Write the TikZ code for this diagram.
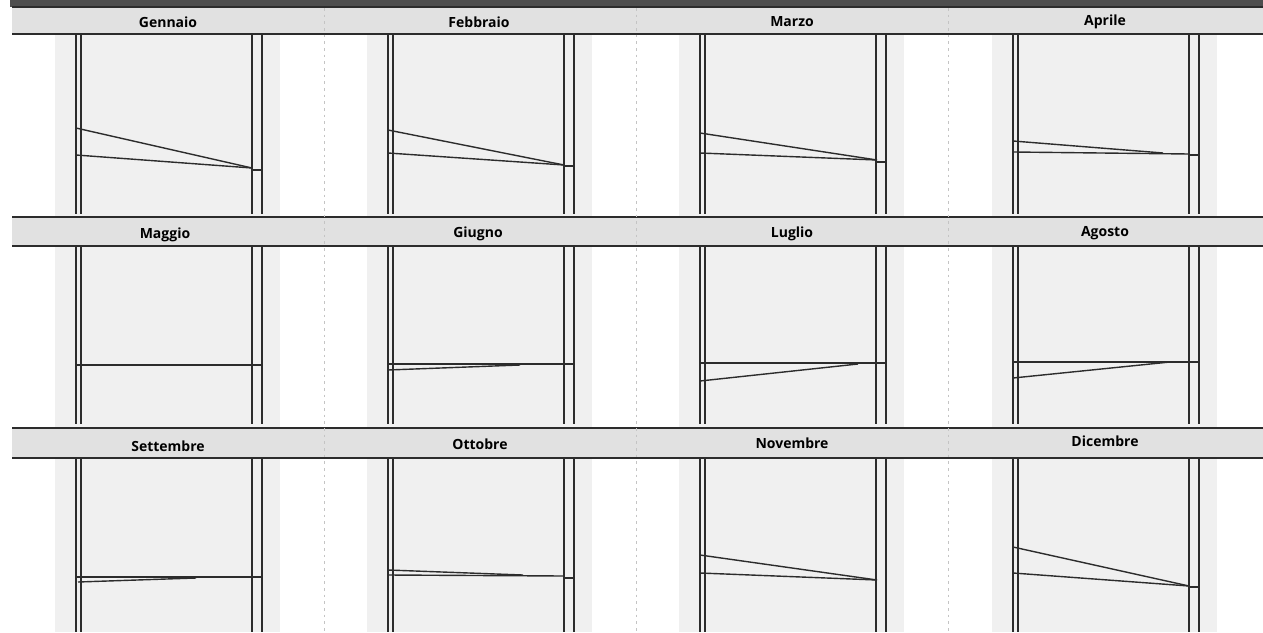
\documentclass[tikz,border=0pt]{standalone}
\usepackage{fontspec}
\setmainfont{Open Sans}
\definecolor{hdr}{HTML}{E1E1E1}
\definecolor{ink}{HTML}{2C2C2C}
\definecolor{pane}{HTML}{F0F0F0}
\definecolor{topband}{HTML}{4E4E4E}
\definecolor{sep}{HTML}{C4C4C4}
\tikzset{
  rail/.style={draw=ink, line width=1.5pt},
  trace/.style={draw=ink, line width=1.05pt},
  hline/.style={draw=ink, line width=1.3pt},
  monthlabel/.style={font=\bfseries\fontsize{10.5}{12}\selectfont, text=black, inner sep=0pt},
  sepline/.style={draw=sep, line width=0.6pt, dash pattern=on 2pt off 3pt}
}
\begin{document}
\begin{tikzpicture}[x=0.75pt,y=-0.75pt]
\useasboundingbox (0,0) rectangle (1263,632);
\fill[white] (0,0) rectangle (1263,632);
% top dark band
\fill[topband] (10,0) rectangle (1263,7);
% panel backgrounds
\foreach \c in {0,312,624,937}{
  \foreach \ya/\yb in {35/216,246/427,458/632}{
    \fill[pane] (55+\c,\ya) rectangle (280+\c,\yb);
  }
}
% header bands
\foreach \ya/\yb in {7/34,217/246,428/458}{
  \fill[hdr] (12,\ya) rectangle (1263,\yb);
  \draw[hline] (12,\ya) -- (1263,\ya);
  \draw[hline] (12,\yb) -- (1263,\yb);
}
% dotted separators
\foreach \x in {324,636,948}{
  \draw[sepline] (\x,8) -- (\x,632);
}
% rails
\foreach \c in {0,312,624,937}{
  \foreach \ya/\yb in {35/214,247/424,459/632}{
    \draw[rail] (76+\c,\ya) -- (76+\c,\yb);
    \draw[rail] (81+\c,\ya) -- (81+\c,\yb);
    \draw[rail] (252+\c,\ya) -- (252+\c,\yb);
    \draw[rail] (262+\c,\ya) -- (262+\c,\yb);
  }
}
% labels
\node[monthlabel] (m1) at (168,22) {Gennaio};
\node[monthlabel] (m2) at (479,22) {Febbraio};
\node[monthlabel] (m3) at (792,22) {Marzo};
\node[monthlabel] (m4) at (1105,22) {Aprile};
\node[monthlabel] (m5) at (165,235) {Maggio};
\node[monthlabel] (m6) at (478,234) {Giugno};
\node[monthlabel] (m7) at (792,234) {Luglio};
\node[monthlabel] (m8) at (1105,233) {Agosto};
\node[monthlabel] (m9) at (168,446) {Settembre};
\node[monthlabel] (m10) at (480,444) {Ottobre};
\node[monthlabel] (m11) at (792,443) {Novembre};
\node[monthlabel] (m12) at (1105,441) {Dicembre};
% traces row 1
\draw[trace] (76,128) -- (252,168);
\draw[trace] (76,155) -- (252,168);
\draw[trace] (252,170) -- (262,170);
\draw[trace] (388,130) -- (564,165);
\draw[trace] (388,153) -- (564,165);
\draw[trace] (564,166) -- (574,166);
\draw[trace] (700,133) -- (877,160);
\draw[trace] (700,153) -- (877,160);
\draw[trace] (877,162) -- (887,162);
\draw[trace] (1013,141) -- (1163,153);
\draw[trace] (1013,152) -- (1189,154);
\draw[trace] (1189,155) -- (1199,155);
% traces row 2
\draw[trace] (76,365) -- (262,365);
\draw[trace] (388,364) -- (574,364);
\draw[trace] (388,370) -- (520,365);
\draw[trace] (700,363) -- (887,363);
\draw[trace] (700,381) -- (858,364);
\draw[trace] (1013,362) -- (1199,362);
\draw[trace] (1013,378) -- (1170,362);
% traces row 3
\draw[trace] (76,577) -- (262,577);
\draw[trace] (78,582) -- (196,578);
\draw[trace] (388,570) -- (523,575);
\draw[trace] (388,575) -- (564,576);
\draw[trace] (564,578) -- (574,578);
\draw[trace] (700,555) -- (877,580);
\draw[trace] (700,573) -- (877,580);
\draw[trace] (1013,547) -- (1189,586);
\draw[trace] (1013,573) -- (1189,586);
\draw[trace] (1189,587) -- (1199,587);
\end{tikzpicture}
\end{document}
